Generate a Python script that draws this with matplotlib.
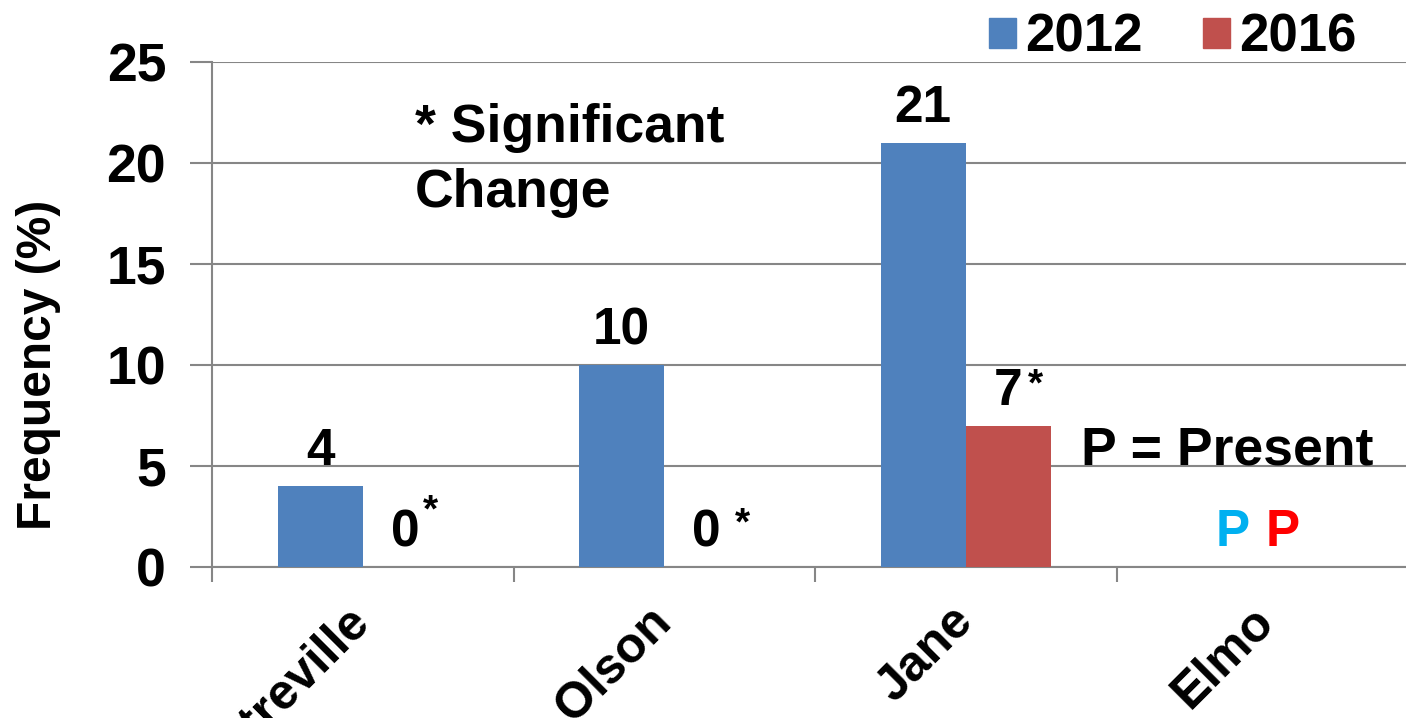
import numpy as np
import matplotlib
matplotlib.use("Agg")
import matplotlib.pyplot as plt
from matplotlib.patches import Patch

plt.rcParams['font.family'] = ['Liberation Sans', 'DejaVu Sans']
plt.rcParams['font.weight'] = 'bold'

sites = ["Montreville", "Olson", "Jane", "Elmo"]
freq_2012 = [4, 10, 21, np.nan]
freq_2016 = [0, 0, 7, np.nan]
star_2016 = [True, True, True, False]
present_2012 = [False, False, False, True]
present_2016 = [False, False, False, True]
yticks = [0, 5, 10, 15, 20, 25]

c2012 = '#4F81BD'
c2016 = '#C0504D'
grid_col = '#868686'
fs = 38.5
fs_val = 37

# asterisk offsets (points) next to each 2016 label
star_offsets = [(18, 33), (26, 23.5), (19.5, 22), (0, 0)]

fig = plt.figure(figsize=(14.06, 7.18), dpi=100)
ax = fig.add_axes([212/1406, 151/718, 1206/1406, 505/718])

x = np.arange(len(sites))
w = 0.282
ax.bar(x - w/2, freq_2012, w, color=c2012, zorder=3)
ax.bar(x + w/2, freq_2016, w, color=c2016, zorder=3)

ax.set_xlim(-0.5, 3.5)
ax.set_ylim(0, 25)
ax.set_yticks(yticks)
ax.set_yticklabels([str(t) for t in yticks], fontsize=fs, fontweight='bold')
ax.tick_params(axis='y', length=16, width=1.5, color=grid_col, pad=17)
ax.yaxis.grid(True, color=grid_col, linewidth=1.5, zorder=0)

# category boundaries as major ticks, names on minor ticks
ax.set_xticks(np.arange(-0.5, 4, 1))
ax.set_xticklabels([])
ax.tick_params(axis='x', which='major', length=11, width=1.5, color=grid_col)
ax.set_xticks(x, minor=True)
ax.set_xticklabels(sites, minor=True, rotation=45, ha='right', va='center',
                   rotation_mode='anchor', fontsize=36, fontweight='bold')
ax.tick_params(axis='x', which='minor', length=0, pad=34)

for s in ['top', 'right']:
    ax.spines[s].set_visible(False)
for s in ['left', 'bottom']:
    ax.spines[s].set_color(grid_col)
    ax.spines[s].set_linewidth(1.5)

ax.set_ylabel("Frequency (%)", fontsize=34.5, fontweight='bold')
ax.yaxis.set_label_coords(-0.125, 0.40)

# value labels
for xi, v in zip(x, freq_2012):
    if not np.isnan(v):
        ax.annotate(f"{v:g}", (xi - w/2, v), xytext=(0, 15), textcoords='offset points',
                    ha='center', va='baseline', fontsize=fs_val, fontweight='bold')
for i, (xi, v) in enumerate(zip(x, freq_2016)):
    if np.isnan(v):
        continue
    ax.annotate(f"{v:g}", (xi + w/2, v), xytext=(0, 15), textcoords='offset points',
                ha='center', va='baseline', fontsize=fs_val, fontweight='bold')
    if star_2016[i]:
        ax.annotate("*", (xi + w/2, v), xytext=star_offsets[i], textcoords='offset points',
                    ha='center', va='baseline', fontsize=28, fontweight='bold')

for xi, p1, p2 in zip(x, present_2012, present_2016):
    if p1:
        ax.annotate("P", (xi - 0.116, 0), xytext=(0, 15), textcoords='offset points',
                    ha='center', va='baseline', fontsize=fs_val, fontweight='bold', color='#00B0F0')
    if p2:
        ax.annotate("P", (xi + 0.05, 0), xytext=(0, 15), textcoords='offset points',
                    ha='center', va='baseline', fontsize=fs_val, fontweight='bold', color='#FF0000')

ax.text(2.866, 5.05, "P = Present", ha='center', va='baseline', fontsize=fs, fontweight='bold')
ax.text(0.173, 22.95, "* Significant\nChange", ha='left', va='top', fontsize=fs,
        fontweight='bold', linespacing=1.38)

handles = [Patch(color=c2012, label='2012'), Patch(color=c2016, label='2016')]
fig.legend(handles=handles, loc='center right', bbox_to_anchor=(1357/1406, 1 - 38/718),
           ncol=2, frameon=False, prop={'size': 38, 'weight': 'bold'},
           handlelength=0.51, handleheight=0.51, handletextpad=0.19,
           columnspacing=1.13, borderaxespad=0, borderpad=0)

fig.savefig("out.png", dpi=100)
